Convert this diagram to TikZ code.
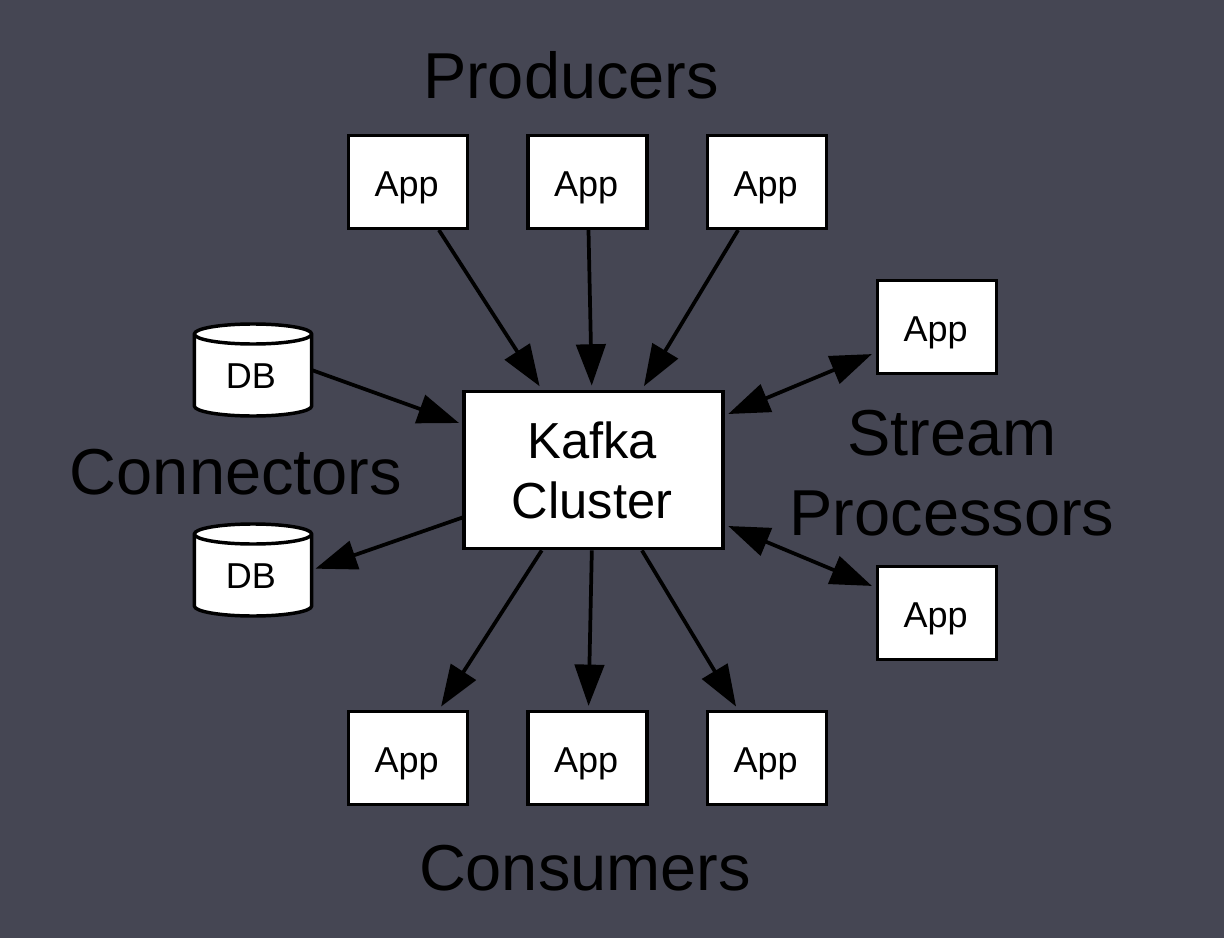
\documentclass[tikz,border=0pt]{standalone}
\usepackage{fontspec}
\setmainfont{Liberation Sans}
\usetikzlibrary{arrows.meta}
\definecolor{slate}{HTML}{454653}
\tikzset{
  appbox/.style={draw=black,fill=white,line width=2.6pt,minimum width=89.5pt,minimum height=69.5pt,inner sep=0pt,text depth=0pt,font=\fontsize{27pt}{30pt}\selectfont},
  apptext/.style={inner sep=0pt,font=\fontsize{27pt}{30pt}\selectfont},
  clusterbox/.style={draw=black,fill=white,line width=2.6pt,minimum width=194pt,minimum height=118pt,inner sep=0pt,align=center,font=\fontsize{38pt}{45pt}\selectfont},
  dbframe/.style={minimum width=88pt,minimum height=69pt,inner sep=0pt,outer sep=0pt},
  dbline/.style={draw=black,fill=white,line width=2.6pt,line join=round},
  grouplabel/.style={align=center,inner sep=0pt,font=\fontsize{48.7pt}{60pt}\selectfont},
  tipflow/.style={line width=2.8pt,-{Triangle[length=31pt,width=22pt]}},
  flow/.style={tipflow,shorten >=3pt},
  dualflow/.style={line width=2.8pt,{Triangle[length=31pt,width=22pt]}-{Triangle[length=31pt,width=22pt]},shorten >=3pt,shorten <=3pt}
}
\newcommand{\dbdrum}[1]{%
  \draw[dbline] ([yshift=-7.5pt]#1.north west) arc[start angle=180,end angle=0,x radius=44pt,y radius=7.5pt]
    -- ([yshift=7.5pt]#1.south east) arc[start angle=0,end angle=-180,x radius=44pt,y radius=7.5pt] -- cycle;
  \draw[dbline,fill=none] ([yshift=-7.5pt]#1.north west) arc[start angle=180,end angle=360,x radius=44pt,y radius=7.5pt];
}
\begin{document}
\begin{tikzpicture}[x=0.75pt,y=-0.75pt]
\useasboundingbox[fill=slate] (0,0) rectangle (1224,938);
\node[clusterbox] (kafka) at (593.5,470) {\raisebox{-1pt}{\hspace{-2pt}Kafka}\\\raisebox{-1pt}{\hspace{-2pt}Cluster}};
\node[appbox] (p1) at (408,182) {\raisebox{-3.3pt}{\hspace{-2pt}App}};
\node[appbox] (p2) at (587.5,182) {\raisebox{-3.3pt}{\hspace{-2pt}App}};
\node[appbox] (p3) at (767,182) {\raisebox{-3.3pt}{\hspace{-2pt}App}};
\node[appbox] (c1) at (408,758) {\raisebox{-3.3pt}{\hspace{-2pt}App}};
\node[appbox] (c2) at (587.5,758) {\raisebox{-3.3pt}{\hspace{-2pt}App}};
\node[appbox] (c3) at (767,758) {\raisebox{-3.3pt}{\hspace{-2pt}App}};
\node[appbox] (s1) at (937,327) {\raisebox{-3.3pt}{\hspace{-2pt}App}};
\node[appbox] (s2) at (937,613) {\raisebox{-3.3pt}{\hspace{-2pt}App}};
\node[dbframe] (d1) at (253,370) {};
\node[dbframe] (d2) at (253,570) {};
\dbdrum{d1}
\dbdrum{d2}
\node[apptext] (dt1) at (251,376) {DB};
\node[apptext] (dt2) at (251,576) {DB};
\node[grouplabel] (lp) at (571,75) {Producers};
\node[grouplabel] (lc) at (236,472) {Connectors};
\node[grouplabel] (ls) at (952,473) {Stream\\Processors};
\node[grouplabel] (lo) at (585,868) {Consumers};
\coordinate (kin) at (459,423);
\coordinate (kout) at (464,517);
\draw[flow] (p1) -- (kafka);
\draw[flow] (p2) -- (kafka);
\draw[flow] (p3) -- (kafka);
\draw[flow] (kafka) -- (c1);
\draw[flow] (kafka) -- (c2);
\draw[flow] (kafka) -- (c3);
\draw[dualflow] (kafka) -- (s1);
\draw[dualflow] (kafka) -- (s2);
\draw[tipflow] (d1.east) -- (kin);
\draw[flow] (kout) -- (d2.east);
\end{tikzpicture}
\end{document}
